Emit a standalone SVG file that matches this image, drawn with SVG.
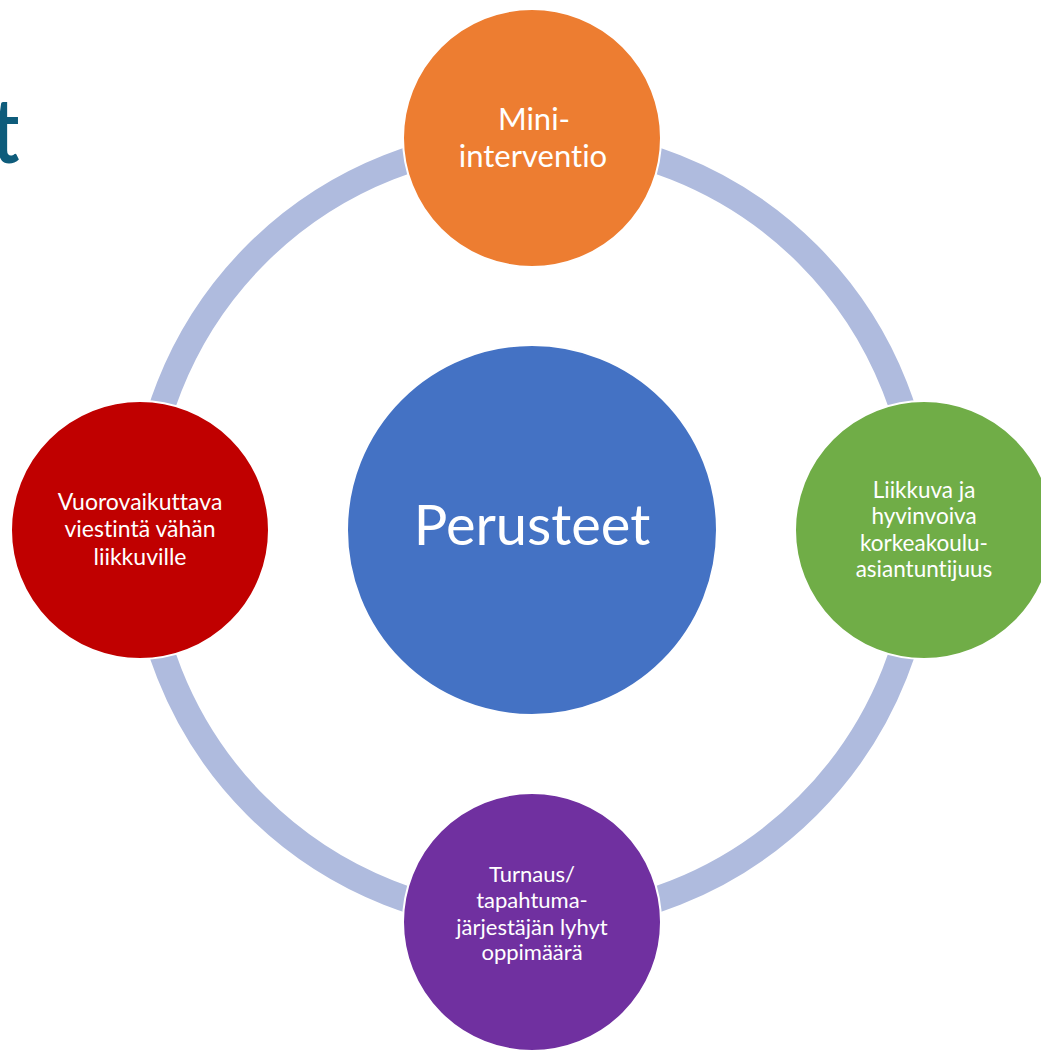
<svg xmlns="http://www.w3.org/2000/svg" width="1041" height="1051" viewBox="0 0 1041 1051">
  <style>
    .node { stroke: #ffffff; stroke-width: 2; }
    .lbl { font-family: Lato, "Open Sans", sans-serif; fill: #ffffff; text-anchor: middle; font-variant-ligatures: none; font-feature-settings: "liga" 0, "clig" 0; }
    .title { font-family: Lato, "Open Sans", sans-serif; fill: #0E5C7B; font-variant-ligatures: none; }
  </style>
  <rect x="0" y="0" width="1041" height="1051" fill="#ffffff"/>
  <text class="title" x="-10" y="163" font-size="90" font-weight="600" transform="scale(0.85,1)">t</text>
  <g id="connectors">
    <circle cx="532" cy="530" r="390" fill="none" stroke="#AFBBDE" stroke-width="26"/>
  </g>
  <g id="node-center">
    <circle class="node" cx="532" cy="530" r="185" fill="#4472C4"/>
    <text class="lbl" x="532" y="545" font-size="56">Perusteet</text>
  </g>
  <g id="node-top">
    <circle class="node" cx="532" cy="138" r="129" fill="#ED7D31"/>
    <text class="lbl" font-size="31"><tspan x="534" y="130">Mini-</tspan><tspan x="533" y="167">interventio</tspan></text>
  </g>
  <g id="node-right">
    <circle class="node" cx="924" cy="530" r="129" fill="#70AD47"/>
    <text class="lbl" font-size="22.5"><tspan x="924" y="498">Liikkuva ja</tspan><tspan x="924" y="524">hyvinvoiva</tspan><tspan x="924" y="551">korkeakoulu-</tspan><tspan x="924" y="577">asiantuntijuus</tspan></text>
  </g>
  <g id="node-bottom">
    <circle class="node" cx="532" cy="922" r="129" fill="#7030A0"/>
    <text class="lbl" font-size="22"><tspan x="532" y="882">Turnaus/</tspan><tspan x="532" y="908">tapahtuma-</tspan><tspan x="532" y="935">järjestäjän lyhyt</tspan><tspan x="532" y="960">oppimäärä</tspan></text>
  </g>
  <g id="node-left">
    <circle class="node" cx="140" cy="530" r="129" fill="#C00000"/>
    <text class="lbl" font-size="23"><tspan x="140" y="510">Vuorovaikuttava</tspan><tspan x="140" y="537">viestintä vähän</tspan><tspan x="140" y="565">liikkuville</tspan></text>
  </g>
</svg>
